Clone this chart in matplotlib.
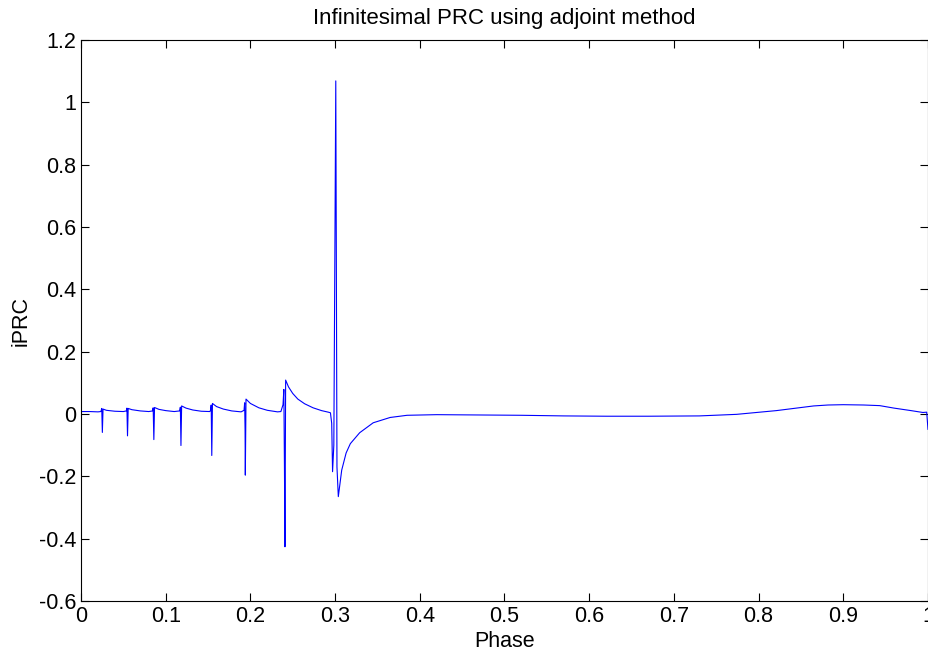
import matplotlib
matplotlib.use('Agg')
import matplotlib.pyplot as plt
import numpy as np

plt.rcParams['font.family'] = ['Liberation Sans', 'DejaVu Sans']
plt.rcParams['axes.unicode_minus'] = False

# phase / iPRC samples
phase = [0.000, 0.010, 0.020, 0.0235, 0.0245, 0.0252, 0.0260, 0.030, 0.040, 0.050,
         0.0535, 0.0542, 0.0549, 0.0557, 0.060, 0.070, 0.080,
         0.0845, 0.0852, 0.0860, 0.0868, 0.092, 0.100, 0.110,
         0.1165, 0.1173, 0.1180, 0.1188, 0.124, 0.132, 0.142, 0.152,
         0.1530, 0.1537, 0.1544, 0.1552, 0.160, 0.168, 0.178, 0.189,
         0.1925, 0.1932, 0.1937, 0.1940, 0.1948, 0.200, 0.210, 0.220, 0.232,
         0.236, 0.2385, 0.2395, 0.2402, 0.2408, 0.2416, 0.245, 0.250, 0.256,
         0.264, 0.274, 0.284, 0.292, 0.2945,
         0.2960, 0.2970, 0.2985, 0.2998, 0.3008, 0.3014, 0.3022, 0.3038,
         0.3078, 0.3130, 0.3180, 0.3290, 0.3450, 0.3650, 0.3850,
         0.420, 0.470, 0.520, 0.570, 0.620, 0.670, 0.730, 0.774, 0.821,
         0.865, 0.882, 0.900, 0.924, 0.943, 0.960, 0.980, 0.994, 0.9985, 1.000]
iprc = [0.008, 0.008, 0.007, 0.008, 0.018, -0.059, 0.016, 0.012, 0.009, 0.008,
        0.010, 0.019, -0.070, 0.018, 0.014, 0.010, 0.008,
        0.010, 0.020, -0.082, 0.021, 0.015, 0.011, 0.008,
        0.010, 0.022, -0.101, 0.026, 0.019, 0.013, 0.009, 0.008,
        0.012, 0.029, -0.133, 0.034, 0.024, 0.016, 0.010, 0.007,
        0.012, 0.036, -0.050, -0.196, 0.048, 0.034, 0.020, 0.012, 0.007,
        0.008, 0.030, 0.079, -0.170, -0.426, 0.109, 0.087, 0.066, 0.048,
        0.033, 0.020, 0.011, 0.006, 0.004,
        -0.030, -0.185, -0.100, 0.550, 1.069, 0.550, -0.170, -0.265,
        -0.180, -0.125, -0.095, -0.060, -0.028, -0.011, -0.004,
        -0.002, -0.003, -0.004, -0.006, -0.007, -0.007, -0.006, -0.001, 0.011,
        0.026, 0.029, 0.030, 0.029, 0.027, 0.019, 0.011, 0.005, 0.006, -0.049]

xticks = np.arange(0, 1.01, 0.1)
yticks = np.arange(-0.6, 1.21, 0.2)

fig = plt.figure(figsize=(9.29, 6.57), dpi=100)
ax = fig.add_axes([0.0872, 0.0852, 0.9117, 0.8538])
ax.plot(phase, iprc, color='#0000ff', lw=0.8)

ax.set_xlim(0, 1)
ax.set_ylim(-0.6, 1.2)
ax.set_xticks(xticks)
ax.set_yticks(yticks)
ax.set_xticklabels(['%g' % round(v, 1) for v in xticks])
ax.set_yticklabels(['%g' % round(v, 1) for v in yticks])
ax.tick_params(direction='in', length=5.5, width=0.8, labelsize=15.5,
               top=True, right=True, pad=3.5)
for s in ax.spines.values():
    s.set_linewidth(0.8)

ax.set_xlabel('Phase', fontsize=15.5, labelpad=3)
ax.set_ylabel('iPRC', fontsize=15.5, labelpad=5)
ax.set_title('Infinitesimal PRC using adjoint method', fontsize=16, pad=11.5)

fig.savefig('out.png', dpi=100)
